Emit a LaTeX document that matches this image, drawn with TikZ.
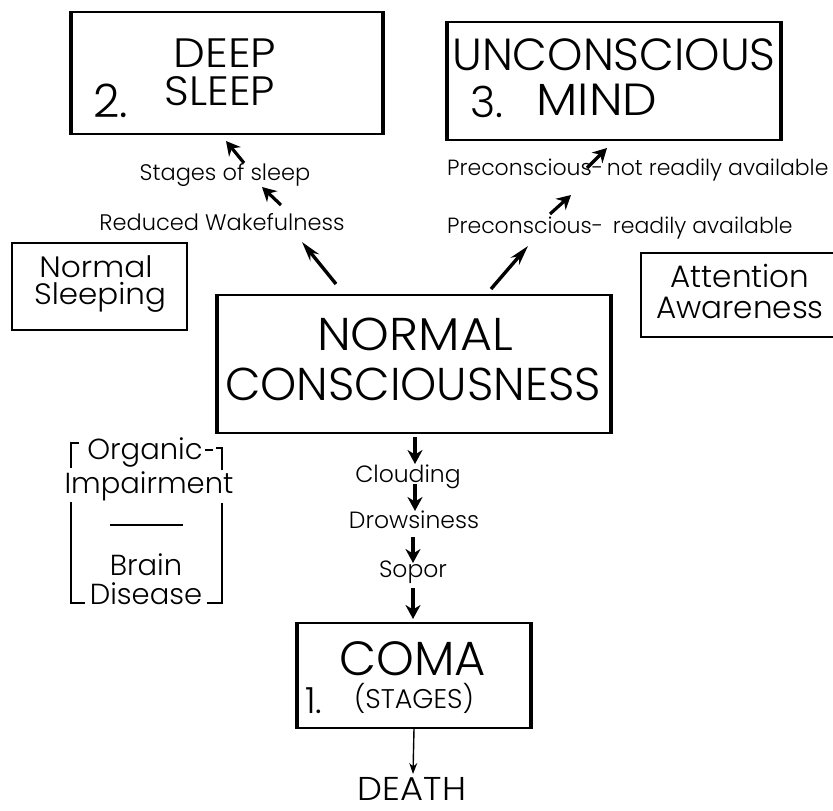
\documentclass[tikz,border=0pt]{standalone}
\usepackage{fontspec}
\setmainfont{Poppins Light}
\usetikzlibrary{arrows.meta}
\begin{document}
\begin{tikzpicture}[x=1pt,y=-1pt,
  boxn/.style={draw, line width=2pt, inner sep=0pt},
  thinbox/.style={draw, line width=1.3pt, inner sep=0pt},
  bigtxt/.style={font=\fontsize{45}{45}\selectfont, inner sep=0pt, anchor=base},
  midtxt/.style={font=\fontsize{31}{31}\selectfont, inner sep=0pt, anchor=base},
  smalltxt/.style={font=\fontsize{22.5}{22.5}\selectfont, inner sep=0pt, anchor=base},
  chaintxt/.style={font=\fontsize{23.5}{23.5}\selectfont, inner sep=0pt, anchor=base},
  stubarrow/.style={-{Stealth[length=14pt,width=15pt]}, line width=3.2pt},
  bigarrow/.style={-{Stealth[length=20pt,width=11pt]}, line width=3.4pt},
  thinarrow/.style={-{Stealth[length=11pt,width=8pt]}, line width=1.4pt},
  sidebar/.style={line width=4.2pt},
  bracket/.style={line width=1.3pt}
]
\useasboundingbox (0,0) rectangle (833,811);

% ---- main boxes
\node[boxn, minimum width=310pt, minimum height=122pt] (deep) at (227,73) {};
\draw[sidebar] (deep.north west) -- (deep.south west);
\draw[sidebar] (deep.north east) -- (deep.south east);
\node[bigtxt, font=\fontsize{41}{41}\selectfont] (deepA) at (225,67) {\scalebox{1.1}[1]{DEEP}};
\node[bigtxt, font=\fontsize{41}{41}\selectfont] (deepB) at (220,105) {\scalebox{1.05}[1]{SLEEP}};
\node[bigtxt, anchor=base west, font=\fontsize{46}{46}\selectfont] (deepN) at (93,117) {2.};

\node[boxn, minimum width=332pt, minimum height=118pt] (uncon) at (614,81) {};
\draw[sidebar] (uncon.north west) -- (uncon.south west);
\draw[sidebar] (uncon.north east) -- (uncon.south east);
\node[bigtxt] (unconA) at (614,70) {UNCONSCIOUS};
\node[bigtxt] (unconB) at (597,115) {\scalebox{1.09}[1]{MIND}};
\node[bigtxt, anchor=base west, font=\fontsize{43}{43}\selectfont] (unconN) at (470,117) {3.};

\node[boxn, minimum width=392pt, minimum height=138pt] (normal) at (414,364) {};
\draw[sidebar] (normal.north west) -- (normal.south west);
\draw[sidebar] (normal.north east) -- (normal.south east);
\node[bigtxt, font=\fontsize{46}{46}\selectfont] (normalA) at (415,350) {\scalebox{1.07}[1]{NORMAL}};
\node[bigtxt, font=\fontsize{46}{46}\selectfont] (normalB) at (413,400) {CONSCIOUSNESS};

\node[boxn, minimum width=232pt, minimum height=105pt] (coma) at (414,675.5) {};
\draw[sidebar] (coma.north west) -- (coma.south west);
\draw[sidebar] (coma.north east) -- (coma.south east);
\node[bigtxt, font=\fontsize{48}{48}\selectfont] (comaA) at (413,675) {COMA};
\node[smalltxt, font=\fontsize{27}{27}\selectfont] (comaB) at (414,708) {(STAGES)};
\node[bigtxt, anchor=base west, font=\fontsize{36}{36}\selectfont] (comaN) at (305,713) {1.};

\node[bigtxt, font=\fontsize{33}{33}\selectfont] (death) at (412,800) {\scalebox{1.07}[1]{DEATH}};

% ---- side boxes
\node[thinbox, minimum width=175pt, minimum height=87pt] (sleeping) at (99.5,286.5) {};
\node[midtxt, font=\fontsize{29.5}{29.5}\selectfont] (sleepA) at (96,277) {\scalebox{1.06}[1]{Normal}};
\node[midtxt, font=\fontsize{29.5}{29.5}\selectfont] (sleepB) at (100,304) {\scalebox{1.05}[1]{Sleeping}};

\node[thinbox, minimum width=194pt, minimum height=84pt] (attention) at (738,295) {};
\node[midtxt] (attA) at (740,287) {Attention};
\node[midtxt] (attB) at (740,318) {Awareness};

% ---- labels
\node[smalltxt] (stages) at (225,180) {Stages of sleep};
\node[smalltxt] (reduced) at (222,230) {Reduced Wakefulness};
\node[smalltxt, font=\fontsize{22}{22}\selectfont, anchor=base west] (precon1) at (447,175) {Preconscious-\,not readily available};
\node[smalltxt, font=\fontsize{22}{22}\selectfont, anchor=base west] (precon2) at (447,233) {Preconscious-\, readily available};
\node[chaintxt] (clouding) at (408,482) {Clouding};
\node[chaintxt] (drowsy) at (414,528) {Drowsiness};
\node[chaintxt] (sopor) at (413,577) {Sopor};

% ---- organic bracket group
\node[midtxt, font=\fontsize{29}{29}\selectfont] (organic) at (145,459) {Organic};
\node[midtxt, font=\fontsize{29}{29}\selectfont] (impair) at (149,493) {Impairment};
\node[midtxt, font=\fontsize{29}{29}\selectfont] (brain) at (146,575) {Brain};
\node[midtxt, font=\fontsize{29}{29}\selectfont] (disease) at (146,604) {Disease};
\coordinate (sepL) at (110,525);
\coordinate (sepR) at (183,525);
\draw[bracket] (sepL) -- (sepR);
\draw[bracket] (79,443) -- (71,443) -- (71,468);
\draw[bracket] (71,502) -- (71,603) -- (85,603);
\draw[bracket] (205,450) -- (213,450);
\draw[bracket] (216,448) -- (222,448) -- (222,470);
\draw[bracket] (222,503) -- (222,603) -- (207,603);

% ---- arrows
\coordinate (bl0) at (336,284);
\coordinate (bl1) at (302,242);
\draw[bigarrow] (bl0) -- (bl1);
\coordinate (br0) at (491,289);
\coordinate (br1) at (528,246);
\draw[bigarrow] (br0) -- (br1);

\coordinate (s1a) at (244,163);
\coordinate (s1b) at (226,141);
\draw[stubarrow] (s1a) -- (s1b);
\coordinate (s2a) at (281,205);
\coordinate (s2b) at (262,187);
\draw[stubarrow] (s2a) -- (s2b);

\coordinate (p1a) at (587,168);
\coordinate (p1b) at (607,148);
\draw[stubarrow] (p1a) -- (p1b);
\coordinate (p2a) at (550,214);
\coordinate (p2b) at (571,195);
\draw[stubarrow] (p2a) -- (p2b);

\coordinate (d1a) at (415,437);
\coordinate (d1b) at (415,464);
\draw[stubarrow] (d1a) -- (d1b);
\coordinate (d2a) at (415,484);
\coordinate (d2b) at (415,511);
\draw[stubarrow] (d2a) -- (d2b);
\coordinate (d3a) at (413,537);
\coordinate (d3b) at (413,563);
\draw[stubarrow] (d3a) -- (d3b);
\coordinate (d4a) at (413,588);
\coordinate (d4b) at (413,619);
\draw[stubarrow] (d4a) -- (d4b);
\coordinate (deathtop) at (413,774);
\draw[thinarrow] (coma.south) -- (deathtop);
\end{tikzpicture}
\end{document}
